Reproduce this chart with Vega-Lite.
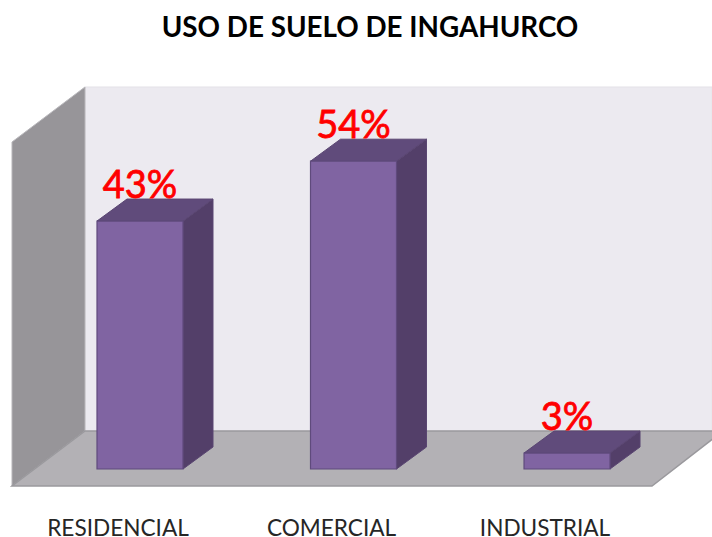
{
"$schema":"https://vega.github.io/schema/vega-lite/v6.json",
"width":712,"height":537,"padding":0,"autosize":{"type":"none"},
"background":"white",
"config":{"view":{"stroke":null}},
"title":{"text":"USO DE SUELO DE INGAHURCO","font":"Lato","fontWeight":"bold","fontSize":27.8,"color":"#000000","anchor":"middle","dx":14,"offset":-64.5,"baseline":"alphabetic"},
"datasets":{
"barras":[
{"uso":"RESIDENCIAL","orden":1,"valor":43.5,"etiqueta":"43%"},
{"uso":"COMERCIAL","orden":2,"valor":54,"etiqueta":"54%"},
{"uso":"INDUSTRIAL","orden":3,"valor":2.8,"etiqueta":"3%"}
],
"planos":[
{"plano":"pared izquierda","x":0.4005,"y":57.37,"y2":-2.98},
{"plano":"pared izquierda","x":0.7424,"y":67.02,"y2":6.67},
{"plano":"pared fondo","x":0.7424,"y":67.02,"y2":6.67},
{"plano":"pared fondo","x":3.68,"y":67.02,"y2":6.67}
],
"suelo":[
{"plano":"suelo","y":6.67,"x":0.7424,"x2":3.7307},
{"plano":"suelo","y":-2.98,"x":0.4005,"x2":3.398}
]
},
"encoding":{
"x":{"field":"x","type":"quantitative","axis":null,"scale":{"domain":[0.3443,3.679],"nice":false,"zero":false}},
"y":{"field":"y","type":"quantitative","axis":null,"scale":{"domain":[-11.93,82.28],"nice":false,"zero":false}}
},
"layer":[
{"data":{"name":"planos"},"transform":[{"filter":"datum.plano==='pared fondo'"}],
 "mark":{"type":"area","fill":"#ECEAF0","stroke":"#E4E2E8","strokeWidth":1},"encoding":{"y2":{"field":"y2"}}},
{"data":{"name":"planos"},"transform":[{"filter":"datum.plano==='pared izquierda'"}],
 "mark":{"type":"area","fill":"#979599","stroke":"#B9B8BC","strokeWidth":1},"encoding":{"y2":{"field":"y2"}}},
{"data":{"name":"suelo"},
 "mark":{"type":"area","orient":"horizontal","fill":"#B3B1B5","stroke":"#9A999D","strokeWidth":1.5},
 "encoding":{"x2":{"field":"x2"}}},
{"data":{"name":"barras"},
 "transform":[{"calculate":"[0,1]","as":"t"},{"flatten":["t"]},
  {"calculate":"datum.orden+0.2014+datum.t*0.1405","as":"x"},
  {"calculate":"datum.valor+datum.t*3.86","as":"y"},
  {"calculate":"datum.t*3.86","as":"y2"}],
 "mark":{"type":"area","fill":"#533F69","stroke":"#5A4672","strokeWidth":1},
 "encoding":{"y2":{"field":"y2"},"detail":{"field":"uso"}}},
{"data":{"name":"barras"},
 "transform":[{"calculate":"[0,1]","as":"t"},{"flatten":["t"]},
  {"calculate":"datum.orden-0.2014+datum.t*0.1405","as":"x"},
  {"calculate":"datum.orden+0.2014+datum.t*0.1405","as":"x2"},
  {"calculate":"datum.valor+datum.t*3.86","as":"y"}],
 "mark":{"type":"area","orient":"horizontal","fill":"#604B7B","stroke":"#5A4672","strokeWidth":1},
 "encoding":{"x2":{"field":"x2"},"detail":{"field":"uso"}}},
{"data":{"name":"barras"},
 "transform":[
  {"calculate":"datum.orden-0.2014","as":"x"},
  {"calculate":"datum.orden+0.2014","as":"x2"},
  {"calculate":"0","as":"base"}],
 "mark":{"type":"rect","fill":"#8064A2","stroke":"#5F4A7C","strokeWidth":1.2},
 "encoding":{"x2":{"field":"x2"},"y":{"field":"valor","type":"quantitative"},"y2":{"field":"base"}}},
{"data":{"name":"barras"},
 "mark":{"type":"text","font":"Lato","fontSize":38,"fill":"#FF0000","stroke":"#FF0000","strokeWidth":0.8,"baseline":"alphabetic","align":"center","dy":-23},
 "encoding":{"x":{"field":"orden","type":"quantitative"},"y":{"field":"valor","type":"quantitative"},"text":{"field":"etiqueta"}}},
{"data":{"name":"barras"},
 "transform":[{"calculate":"datum.orden-0.103","as":"xe"},{"calculate":"-11.7","as":"ye"}],
 "mark":{"type":"text","font":"Lato","fontSize":22.6,"fill":"#262626","baseline":"alphabetic","align":"center"},
 "encoding":{"x":{"field":"xe","type":"quantitative"},"y":{"field":"ye","type":"quantitative"},"text":{"field":"uso"}}}
]
}
